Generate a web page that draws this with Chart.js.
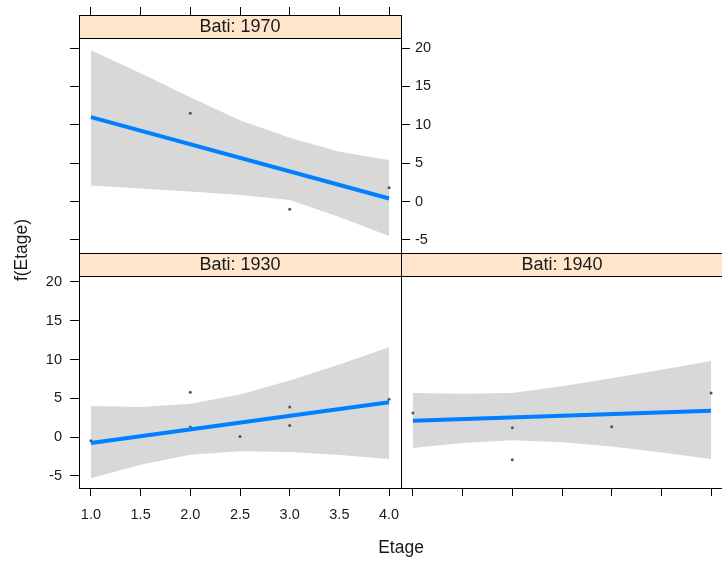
<!DOCTYPE html>
<html>
<head>
<meta charset="utf-8">
<script src="https://cdn.jsdelivr.net/npm/chart.js@4.4.1/dist/chart.umd.min.js"></script>
<style>
  html, body { margin: 0; padding: 0; background: #fff; }
  #wrap { position: relative; width: 722px; height: 563px; overflow: hidden; }
  #wrap canvas { position: absolute; left: 0; top: 0; }
</style>
</head>
<body>
<div id="wrap">
  <canvas id="p1970" width="722" height="563"></canvas>
  <canvas id="p1930" width="722" height="563"></canvas>
  <canvas id="p1940" width="740" height="563"></canvas>
</div>
<script>
// Effet partiel de Etage selon Bati : droite ajustée + bande de confiance + résidus partiels
const etageTicks = [1.0, 1.5, 2.0, 2.5, 3.0, 3.5, 4.0];
const fTicks = [-5, 0, 5, 10, 15, 20];
const bandEtage = [1.0, 1.5, 2.0, 2.5, 3.0, 3.5, 4.0];
const fitEtage = [1.0, 4.0];

// Bati 1970
const fit1970 = [11.0, 0.4];
const upper1970 = [19.7, 16.7, 13.6, 10.6, 8.3, 6.5, 5.4];
const lower1970 = [2.1, 1.7, 1.3, 0.85, 0.2, -2.0, -4.5];
const resEtage1970 = [2, 3, 4];
const res1970 = [11.5, -1.0, 1.8];

// Bati 1930
const fit1930 = [-0.75, 4.5];
const upper1930 = [4.0, 3.9, 4.3, 5.5, 7.3, 9.35, 11.6];
const lower1930 = [-5.3, -3.55, -2.26, -1.8, -1.9, -2.3, -2.8];
const resEtage1930 = [1, 2, 2, 2.5, 3, 3, 4];
const res1930 = [-0.45, 5.8, 1.3, 0.1, 3.9, 1.5, 4.9];

// Bati 1940
const fit1940 = [2.13, 3.4];
const upper1940 = [5.7, 5.6, 5.7, 6.55, 7.6, 8.7, 9.8];
const lower1940 = [-1.4, -0.75, -0.4, -0.67, -1.2, -1.96, -2.8];
const resEtage1940 = [1, 2, 2, 3, 3, 4];
const res1940 = [3.1, 1.2, -2.9, 1.35, 3.0, 5.7];

const FONT = "'Liberation Sans', Arial, sans-serif";
const TXT = '#1a1a1a';
const BLUE = '#0080ff';
const BAND = '#d8d8d8';
const STRIP = '#ffe5cc';
const STRIP_H = 23;

// bandeau "Bati: xxxx" + cadre du panneau
const panelFrame = {
  id: 'panelFrame',
  afterDraw(chart, args, opts) {
    const { ctx, chartArea: a } = chart;
    ctx.save();
    ctx.fillStyle = STRIP;
    ctx.fillRect(a.left, a.top, a.right - a.left, STRIP_H);
    ctx.strokeStyle = '#000';
    ctx.lineWidth = 1;
    ctx.beginPath();
    ctx.moveTo(a.left, Math.round(a.top + STRIP_H) + 0.5);
    ctx.lineTo(a.right, Math.round(a.top + STRIP_H) + 0.5);
    ctx.stroke();
    ctx.strokeRect(Math.round(a.left) + 0.5, Math.round(a.top) + 0.5,
      Math.round(a.right - a.left), Math.round(a.bottom - a.top));
    ctx.fillStyle = TXT;
    ctx.font = '18px ' + FONT;
    ctx.textAlign = 'center';
    ctx.textBaseline = 'middle';
    ctx.fillText(opts.title, (a.left + a.right) / 2, a.top + STRIP_H / 2 + 1);
    if (opts.axisTitles) {
      ctx.font = '17.5px ' + FONT;
      ctx.fillText('Etage', 401, 548);
      ctx.translate(22, 250);
      ctx.rotate(-Math.PI / 2);
      ctx.fillText('f(Etage)', 0, 0);
    }
    ctx.restore();
  }
};

function xAxis(position, labels, height) {
  return {
    type: 'linear', position, min: 0.88, max: 4.12,
    afterBuildTicks: s => { s.ticks = etageTicks.map(v => ({ value: v })); },
    afterFit: s => { s.height = height; },
    grid: { drawOnChartArea: false, drawTicks: true, tickLength: 8, color: '#000' },
    border: { display: false },
    ticks: { display: labels, color: TXT, padding: 10, font: { family: FONT, size: 14.5 },
      callback: v => Number(v).toFixed(1) }
  };
}

function yAxis(position, labels, width, min, max, show = true) {
  return {
    type: 'linear', position, min, max, display: show,
    afterBuildTicks: s => { s.ticks = fTicks.map(v => ({ value: v })); },
    afterFit: s => { s.width = width; },
    grid: { drawOnChartArea: false, drawTicks: true, tickLength: 9, color: '#000' },
    border: { display: false },
    ticks: { display: labels, color: TXT, padding: position === 'left' ? 8 : 5,
      font: { family: FONT, size: 14.5 }, callback: v => String(v) }
  };
}

function datasets(upper, lower, fit, resX, resY) {
  return [
    { data: bandEtage.map((x, i) => ({ x, y: upper[i] })), showLine: true, borderWidth: 0,
      pointRadius: 0, backgroundColor: BAND, fill: '+1' },
    { data: bandEtage.map((x, i) => ({ x, y: lower[i] })), showLine: true, borderWidth: 0,
      pointRadius: 0, fill: false },
    { data: fitEtage.map((x, i) => ({ x, y: fit[i] })), showLine: true, borderColor: BLUE,
      borderWidth: 4, pointRadius: 0, fill: false },
    { data: resX.map((x, i) => ({ x, y: resY[i] })), pointRadius: 1.5, pointBorderWidth: 0,
      backgroundColor: '#555', fill: false }
  ];
}

function baseOptions(padding, scales, frame) {
  return {
    responsive: false, animation: false, events: [],
    layout: { padding, autoPadding: false },
    scales,
    plugins: { legend: { display: false }, tooltip: { enabled: false },
      filler: { drawTime: 'beforeDatasetsDraw' }, panelFrame: frame }
  };
}

// Bati 1970 : panneau du haut, zone 79-401 x 15-253
new Chart(document.getElementById('p1970'), {
  type: 'scatter',
  data: { datasets: datasets(upper1970, lower1970, fit1970, resEtage1970, res1970) },
  options: baseOptions({ left: 70, right: 271, top: 7, bottom: 310 }, {
    x: xAxis('top', false, 8),
    y: yAxis('left', false, 9, -6.7, 24.3),
    y2: yAxis('right', true, 50, -6.7, 24.3)
  }, { title: 'Bati: 1970' }),
  plugins: [panelFrame]
});

// Bati 1930 : bas gauche, zone 79-401 x 253-488
new Chart(document.getElementById('p1930'), {
  type: 'scatter',
  data: { datasets: datasets(upper1930, lower1930, fit1930, resEtage1930, res1930) },
  options: baseOptions({ left: 19, right: 321, top: 253, bottom: 35 }, {
    x: xAxis('bottom', true, 40),
    y: yAxis('left', true, 60, -6.55, 23.73)
  }, { title: 'Bati: 1930', axisTitles: true }),
  plugins: [panelFrame]
});

// Bati 1940 : bas droite, zone 401-723 x 253-488 (bord droit hors cadre)
new Chart(document.getElementById('p1940'), {
  type: 'scatter',
  data: { datasets: datasets(upper1940, lower1940, fit1940, resEtage1940, res1940) },
  options: baseOptions({ left: 401, right: 17, top: 253, bottom: 67 }, {
    x: xAxis('bottom', false, 8),
    y: yAxis('left', false, 0, -6.55, 23.73, false)
  }, { title: 'Bati: 1940' }),
  plugins: [panelFrame]
});
</script>
</body>
</html>
